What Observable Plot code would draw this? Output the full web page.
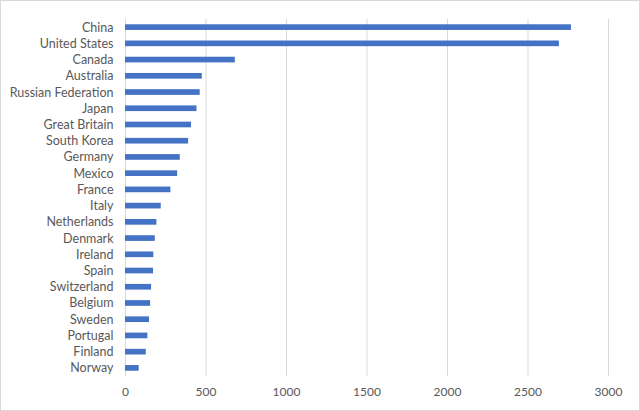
<!DOCTYPE html>
<html>
<head>
<meta charset="utf-8">
<script src="https://cdn.jsdelivr.net/npm/d3@7"></script>
<script src="https://cdn.jsdelivr.net/npm/@observablehq/plot@0.6"></script>
<style>
  html, body { margin: 0; padding: 0; background: #fff; }
  #wrap { position: relative; width: 640px; height: 411px; overflow: hidden; }
  #border { position: absolute; left: 0; top: 0; width: 640px; height: 411px; box-sizing: border-box; border: 1.5px solid #d9d9d9; pointer-events: none; }
</style>
</head>
<body>
<div id="wrap"><div id="border"></div></div>
<script>
const countries = ["China","United States","Canada","Australia","Russian Federation","Japan","Great Britain","South Korea","Germany","Mexico","France","Italy","Netherlands","Denmark","Ireland","Spain","Switzerland","Belgium","Sweden","Portugal","Finland","Norway"];
const values = [2770, 2695, 682, 477, 464, 444, 410, 392, 340, 324, 282, 222, 195, 185, 176, 174, 162, 156, 149, 139, 129, 85];
const xTicks = [0, 500, 1000, 1500, 2000, 2500, 3000];

const data = countries.map((c, i) => ({country: c, value: values[i]}));

const chart = Plot.plot({
  width: 640,
  height: 411,
  marginLeft: 125,
  marginRight: 32,
  marginTop: 19,
  marginBottom: 35,
  style: {fontFamily: "Lato, 'Open Sans', sans-serif", fontSize: "12px", color: "#595959", background: "transparent"},
  x: {domain: [0, 3000], ticks: xTicks, label: null, tickFormat: d3.format("d")},
  y: {domain: countries, label: null, paddingInner: 0.65, paddingOuter: 0.325, align: 0.5, round: false},
  marks: [
    Plot.gridX(xTicks, {stroke: "#d9d9d9", strokeOpacity: 1, strokeWidth: 1}),
    Plot.barX(data, {x: "value", y: "country", fill: "#4472C4"}),
    Plot.axisX(xTicks, {tickSize: 0, tickPadding: 11, label: null, fill: "#595959", fontSize: 12, tickFormat: d3.format("d")}),
    Plot.axisY({tickSize: 0, tickPadding: 12, label: null, fill: "#595959", fontSize: 12.5})
  ]
});
document.getElementById("wrap").prepend(chart);
</script>
</body>
</html>
